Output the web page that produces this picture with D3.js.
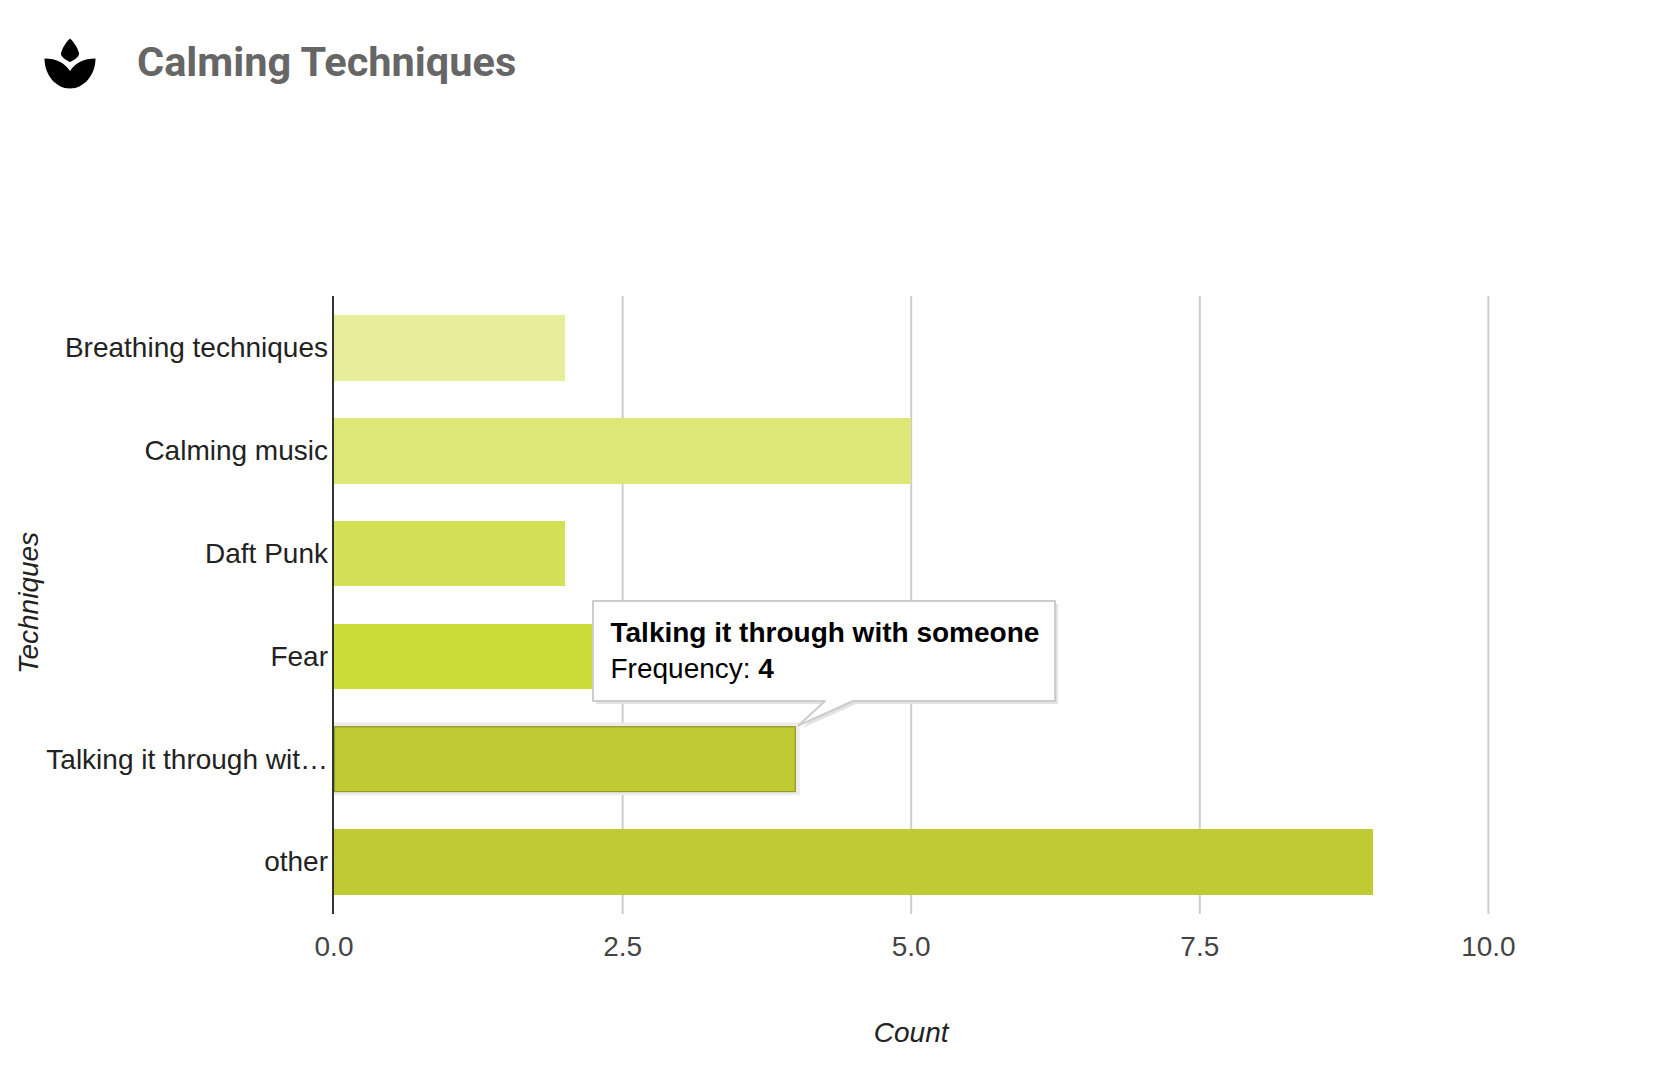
<!DOCTYPE html>
<html>
<head>
<meta charset="utf-8">
<script src="https://cdn.jsdelivr.net/npm/d3@7"></script>
<style>
html,body{margin:0;padding:0;background:#fff;}
svg{display:block;}
text{font-family:"Liberation Sans",Arial,sans-serif;}
</style>
</head>
<body>
<svg id="chart" width="1664" height="1074"></svg>
<script>
const categories = ["Breathing techniques","Calming music","Daft Punk","Fear","Talking it through with someone","other"];
const tickLabels = ["Breathing techniques","Calming music","Daft Punk","Fear","Talking it through wit…","other"];
const frequency = [2,5,2,3,4,9];
const barColors = ["#e6ee9c","#dce775","#d4e157","#cddc39","#c0ca33","#c0ca33"];
const xTicks = [0,2.5,5,7.5,10];
const titleText = "Calming Techniques";
const xTitle = "Count";
const yTitle = "Techniques";
const hovered = "Talking it through with someone";

const svg = d3.select("#chart");
const x = d3.scaleLinear().domain([0,10]).range([334,1488.4]);
const y = d3.scaleBand().domain(categories).range([296.6,913.4]).paddingInner(0.36).paddingOuter(0.18);
const color = d3.scaleOrdinal(categories, barColors);
const fmtX = d3.format(".1f");
const labelSize = "28px";

// header icon
const defs = svg.append("defs");
defs.append("filter").attr("id","soft").append("feGaussianBlur").attr("stdDeviation",0.7);
const icon = svg.append("g").attr("filter","url(#soft)");
icon.append("path").attr("d","M70,38.5 C74,42 79,50 79,54 C79,57 74,60 70,62 C66,60 61,57 61,54 C61,50 66,42 70,38.5Z");
icon.append("path").attr("d","M44.5,58.5 C56,58.5 65,63 70,71 C75,63 84,58.5 95.5,58.5 C95.5,75 84,88.5 70,88.5 C56,88.5 44.5,75 44.5,58.5Z");

svg.append("text").attr("x",137).attr("y",76)
  .style("font-family","Roboto").style("font-weight",700).style("font-size","41.5px").attr("fill","#666").text(titleText);

// grid
svg.append("g").selectAll("line").data(xTicks.filter(d=>d>0)).join("line")
  .attr("x1",d=>x(d)).attr("x2",d=>x(d)).attr("y1",296).attr("y2",914)
  .attr("stroke","#ccc").attr("stroke-width",2);

// x axis labels
const xAxis = svg.append("g").attr("transform","translate(-0.5,914)")
  .call(d3.axisBottom(x).tickValues(xTicks).tickFormat(fmtX).tickSize(0).tickPadding(22));
xAxis.select(".domain").remove();
xAxis.selectAll("text").style("font-size",labelSize).attr("fill","#444");

// hover shadow
svg.append("g").selectAll("rect").data([hovered]).join("rect")
  .attr("x",x(0)).attr("y",d=>y(d)-4).attr("width",d=>x(frequency[categories.indexOf(d)])-x(0)+4)
  .attr("height",y.bandwidth()+7).attr("fill","#ececec");

// bars
svg.append("g").selectAll("rect").data(categories).join("rect")
  .attr("x",x(0)).attr("y",d=>y(d)).attr("width",(d,i)=>x(frequency[i])-x(0)).attr("height",y.bandwidth())
  .attr("fill",d=>color(d)).attr("shape-rendering","crispEdges");
svg.append("g").selectAll("rect").data([hovered]).join("rect")
  .attr("x",x(0)+0.5).attr("y",d=>y(d)+0.5).attr("width",d=>x(frequency[categories.indexOf(d)])-x(0)-1).attr("height",y.bandwidth()-1)
  .attr("fill","none").attr("stroke","#8f9a2c").attr("stroke-width",1.2);

// y axis
const yAxis = svg.append("g").attr("transform",`translate(${x(0)},0.5)`)
  .call(d3.axisLeft(y).tickFormat((d,i)=>tickLabels[i]).tickSize(0).tickPadding(6));
yAxis.select(".domain").remove();
yAxis.selectAll("text").style("font-size",labelSize).attr("fill","#222");
svg.append("line").attr("x1",x(0)-1).attr("x2",x(0)-1).attr("y1",296).attr("y2",914).attr("stroke","#333").attr("stroke-width",2);

// axis titles
svg.append("text").attr("x",x(5)).attr("y",1042).attr("text-anchor","middle")
  .style("font-size",labelSize).style("font-style","italic").attr("fill","#222").text(xTitle);
svg.append("text").attr("transform","translate(38,603) rotate(-90)").attr("text-anchor","middle")
  .style("font-size",labelSize).style("font-style","italic").attr("fill","#222").text(yTitle);

// tooltip anchored to the hovered bar
const tipX = x(frequency[categories.indexOf(hovered)])+3, tipY = y(hovered)-1;
const L=593,T=601,R=1055,B=701,a=825,b=853;
const boxPath = `M${L},${T}H${R}V${B}H${b}L${tipX},${tipY}L${a},${B}H${L}Z`;
svg.append("path").attr("d",boxPath).attr("transform","translate(3,3)").attr("fill","#e2e2e2");
svg.append("path").attr("d",boxPath).attr("fill","#fff").attr("stroke","#ccc").attr("stroke-width",2).attr("stroke-linejoin","round");
svg.append("text").attr("x",610.5).attr("y",641.5).style("font-size",labelSize).style("font-weight",700).attr("fill","#000").text(hovered);
const t2 = svg.append("text").attr("x",610.5).attr("y",678).style("font-size",labelSize).attr("fill","#000");
t2.append("tspan").text("Frequency: ");
t2.append("tspan").style("font-weight",700).text(frequency[categories.indexOf(hovered)]);
</script>
</body>
</html>
